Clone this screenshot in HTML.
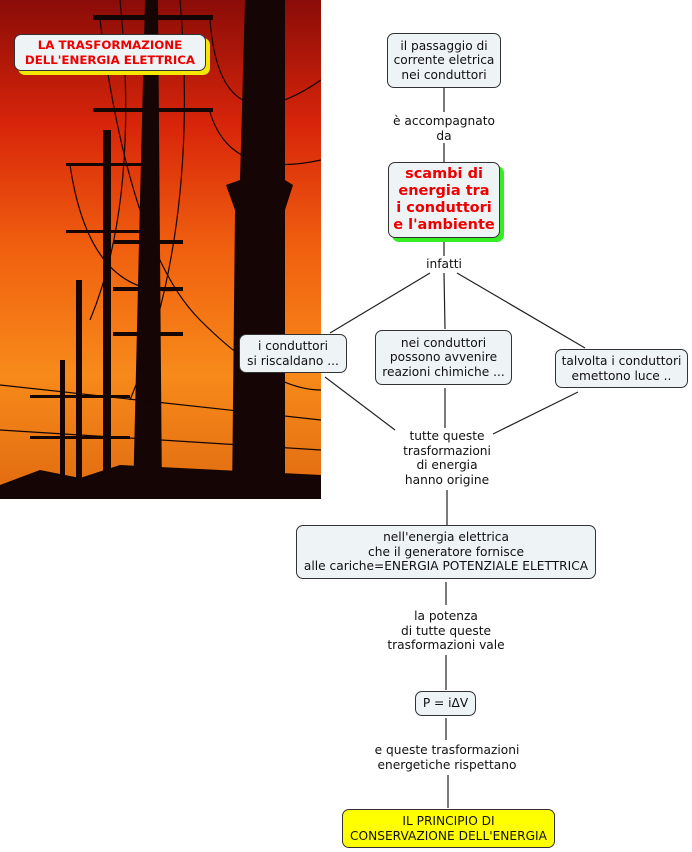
<!DOCTYPE html>
<html><head><meta charset="utf-8"><style>
body{margin:0;width:692px;height:852px;background:#fff;position:relative;overflow:hidden;font-family:"DejaVu Sans","Liberation Sans",sans-serif;font-size:12.2px;color:#111}
.n{position:absolute;box-sizing:border-box;background:#eef3f5;border:1px solid #333;border-radius:7px;text-align:center;line-height:14.5px;display:flex;align-items:center;justify-content:center;white-space:nowrap}
.l{position:absolute;text-align:center;line-height:14.5px;background:#fff;transform:translateX(-50%);white-space:nowrap}
svg{position:absolute;left:0;top:0}
</style></head><body>
<svg width="692" height="852">
<defs><linearGradient id="g" x1="0" y1="0" x2="0" y2="1">
<stop offset="0" stop-color="#8a0c08"/><stop offset=".25" stop-color="#d8250a"/><stop offset=".5" stop-color="#f0600f"/><stop offset=".75" stop-color="#f78a1a"/><stop offset="1" stop-color="#e06a10"/></linearGradient></defs>
<rect x="0" y="0" width="321" height="499" fill="url(#g)"/>
<g fill="#150505">
<polygon points="245,0 285,0 285,180 293,185 285,210 285,499 232,499 235,210 226,185 240,180"/>
<polygon points="145,0 158,0 162,499 133,499 140,200"/>
<rect x="103" y="130" width="8" height="369"/>
<rect x="76" y="280" width="6" height="219"/>
<rect x="60" y="360" width="5" height="139"/>
<rect x="93" y="15" width="120" height="5"/>
<rect x="93" y="108" width="120" height="4"/>
<rect x="66" y="163" width="80" height="3"/>
<rect x="66" y="230" width="80" height="3"/>
<rect x="113" y="240" width="70" height="4"/>
<rect x="113" y="287" width="70" height="4"/>
<rect x="113" y="332" width="70" height="4"/>
<rect x="30" y="395" width="100" height="3"/>
<rect x="30" y="436" width="100" height="3"/>
<polygon points="0,485 40,470 80,478 120,465 321,475 321,499 0,499"/>
</g>
<g stroke="#150505" fill="none" stroke-width="1.2">
<path d="M100,20 Q130,250 200,320 T321,390"/>
<path d="M210,20 Q220,150 321,80"/>
<path d="M210,112 Q230,180 321,160"/>
<path d="M70,165 Q90,300 180,290"/>
<path d="M120,0 Q140,200 90,320"/>
<path d="M180,0 Q200,230 130,400"/>
<path d="M0,385 L321,420"/><path d="M0,430 L321,450"/>
</g>
<g stroke="#222" stroke-width="1.2" fill="none">
<line x1="444" y1="88" x2="444" y2="112"/><line x1="444" y1="142" x2="444" y2="162"/>
<line x1="444" y1="240" x2="444" y2="256"/>
<line x1="430" y1="273" x2="330" y2="333"/><line x1="444" y1="273" x2="445" y2="329"/><line x1="457" y1="273" x2="585" y2="348"/>
<line x1="325" y1="377" x2="395" y2="430"/><line x1="445" y1="388" x2="445" y2="428"/><line x1="578" y1="392" x2="493" y2="434"/>
<line x1="447" y1="490" x2="447" y2="525"/><line x1="446" y1="582" x2="446" y2="605"/>
<line x1="446" y1="655" x2="446" y2="690"/><line x1="446" y1="718" x2="446" y2="740"/>
<line x1="448" y1="775" x2="448" y2="808"/>
</g>
</svg>
<div class="n" style="left:18px;top:38px;width:192px;height:37px;background:#f5e800;border:none;border-radius:7px"></div>
<div class="n" style="left:14px;top:34px;width:192px;height:37px;background:#eef3f5;color:#e00;font-weight:bold;font-size:11.8px">LA TRASFORMAZIONE<br>DELL'ENERGIA ELETTRICA</div>
<div class="n" style="left:387px;top:33px;width:114px;height:55px">il passaggio di<br>corrente eletrica<br>nei conduttori</div>
<div class="l" style="left:444px;top:114px">è accompagnato<br>da</div>
<div class="n" style="left:392px;top:166px;width:112px;height:76px;background:#33ee22;border:none"></div>
<div class="n" style="left:388px;top:162px;width:112px;height:76px;color:#e00;font-weight:bold;font-size:14.5px;line-height:17px">scambi di<br>energia tra<br>i conduttori<br>e l'ambiente</div>
<div class="l" style="left:444px;top:257px">infatti</div>
<div class="n" style="left:239px;top:334px;width:108px;height:39px">i conduttori<br>si riscaldano ...</div>
<div class="n" style="left:375px;top:330px;width:137px;height:55px">nei conduttori<br>possono avvenire<br>reazioni chimiche ...</div>
<div class="n" style="left:555px;top:349px;width:133px;height:39px">talvolta i conduttori<br>emettono luce ..</div>
<div class="l" style="left:447px;top:429px">tutte queste<br>trasformazioni<br>di energia<br>hanno origine</div>
<div class="n" style="left:296px;top:525px;width:300px;height:54px">nell'energia elettrica<br>che il generatore fornisce<br>alle cariche=ENERGIA POTENZIALE ELETTRICA</div>
<div class="l" style="left:446px;top:609px">la potenza<br>di tutte queste<br>trasformazioni vale</div>
<div class="n" style="left:415px;top:691px;width:61px;height:25px">P = i&Delta;V</div>
<div class="l" style="left:447px;top:743px">e queste trasformazioni<br>energetiche rispettano</div>
<div class="n" style="left:342px;top:809px;width:213px;height:39px;background:#ffff00">IL PRINCIPIO DI<br>CONSERVAZIONE DELL'ENERGIA</div>
</body></html>
